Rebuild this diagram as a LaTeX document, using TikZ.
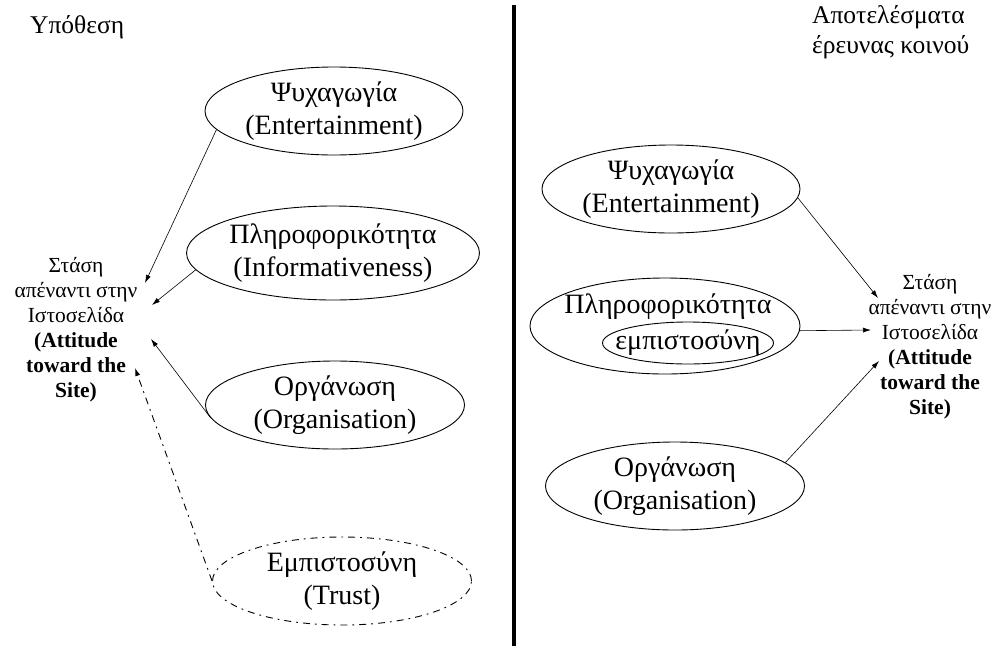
\documentclass[tikz,border=0pt]{standalone}
\usepackage{fontspec}
\setmainfont{Liberation Serif}
\usetikzlibrary{shapes.geometric,arrows.meta}
\tikzset{
  oval/.style={draw, ellipse, line width=0.9pt, inner sep=0pt, align=center,
    font=\fontsize{28}{33}\selectfont},
  dashoval/.style={oval, dash pattern=on 7pt off 5pt on 1.8pt off 5pt},
  bigtxt/.style={inner sep=0pt, font=\fontsize{28}{33}\selectfont},
  smalltxt/.style={align=center, inner sep=0pt, font=\fontsize{21.5}{25}\selectfont},
  heading/.style={align=left, inner sep=0pt, font=\fontsize{25.5}{29.5}\selectfont},
  link/.style={line width=0.6pt, -{Latex[length=8pt,width=5pt]}},
  dashlink/.style={link, line width=0.9pt, dash pattern=on 7pt off 5pt on 1.8pt off 5pt}
}
\begin{document}
\begin{tikzpicture}[x=1pt,y=-1pt]
\useasboundingbox (0,0) rectangle (1001,646);

% divider
\draw[line width=3.5pt] (514,5) -- (514,646);

% ---- left half: hypothesis ----
\node[heading, anchor=west] (hyp) at (30,27) {Υπόθεση};

\node[oval, minimum width=258pt, minimum height=88pt] (le) at (334,111)
  {Ψυχαγωγία\\(Entertainment)};
\node[oval, minimum width=260pt, minimum height=94pt] (li) at (333,253)
  {Πληροφορικότητα\\(Informativeness)};
\node[oval, minimum width=259pt, minimum height=88pt] (lo) at (335,405)
  {Οργάνωση\\(Organisation)};
\node[dashoval, minimum width=259pt, minimum height=88pt] (lt) at (342,581)
  {Εμπιστοσύνη\\(Trust)};

\node[smalltxt] (latt) at (76,330)
  {Στάση\\απέναντι στην\\Ιστοσελίδα\\\textbf{(Attitude}\\\textbf{toward the}\\\textbf{Site)}};

\coordinate (la1) at (145,283);
\coordinate (la2) at (152,305);
\coordinate (la3) at (151,339);
\coordinate (la4) at (135,368);

\draw[link] (le.189) -- (la1);
\draw[link] (li.187) -- (la2);
\draw[link] (lo.186) -- (la3);
\draw[dashlink] (lt.180) -- (la4);

% ---- right half: survey results ----
\node[heading, anchor=west] (res) at (812,32)
  {Αποτελέσματα\\έρευνας κοινού};

\node[oval, minimum width=258pt, minimum height=88pt] (re) at (671,189)
  {Ψυχαγωγία\\(Entertainment)};
\node[oval, minimum width=270pt, minimum height=96pt] (ri) at (665,326) {};
\node[bigtxt] (rit) at (668,307) {Πληροφορικότητα};
% inner ring drawn tight around its word
\node[oval, minimum width=171pt, minimum height=42pt] (rtr) at (688,343) {};
\node[bigtxt] (rtrt) at (688,343) {εμπιστοσύνη};
\node[oval, minimum width=259pt, minimum height=88pt] (ro) at (675,486)
  {Οργάνωση\\(Organisation)};

\node[smalltxt] (ratt) at (930,347)
  {Στάση\\απέναντι στην\\Ιστοσελίδα\\\textbf{(Attitude}\\\textbf{toward the}\\\textbf{Site)}};

\coordinate (ra1) at (878,298);
\coordinate (ra2) at (871,330);
\coordinate (ra3) at (879,361);

\draw[link] (re.-4) -- (ra1);
\draw[link] (ri.-2) -- (ra2);
\draw[link] (ro.12) -- (ra3);
\end{tikzpicture}
\end{document}
